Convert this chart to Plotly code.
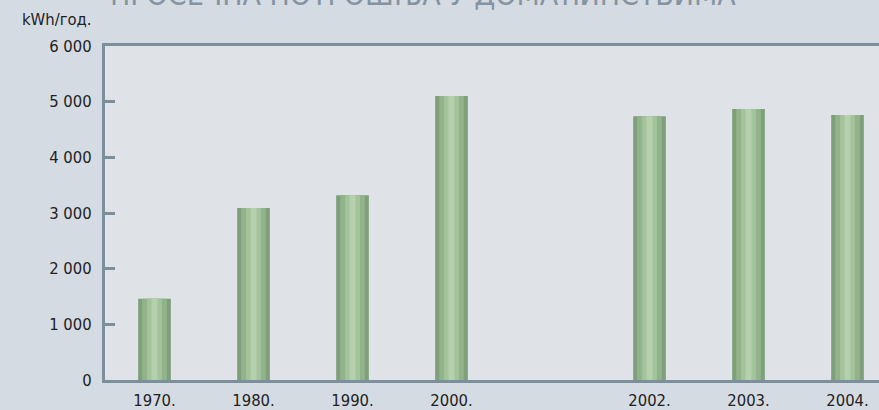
import plotly.graph_objects as go

# Data
categories = ["1970.", "1980.", "1990.", "2000.", " ", "2002.", "2003.", "2004."]
consumption = [1460, 3090, 3320, 5100, None, 4740, 4870, 4760]
y_tick_values = [0, 1000, 2000, 3000, 4000, 5000, 6000]
y_tick_labels = ["0", "1 000", "2 000", "3 000", "4 000", "5 000", "6 000"]
unit_label = "kWh/год."
title_text = "ПРОСЕЧНА ПОТРОШЊА У ДОМАЋИНСТВИМА"

FONT = "DejaVu Sans Condensed, Liberation Sans, sans-serif"
AXIS_COLOR = "#7b8f9d"

fig = go.Figure()
# cylinder-like bars: layered bars of decreasing width
layers = [
    (0.33, "#7f9f7b"),
    (0.25, "#91b28a"),
    (0.15, "#a3c39b"),
    (0.06, "#b6cfae"),
]
for w, c in layers:
    fig.add_trace(go.Bar(
        x=categories, y=consumption, width=w,
        marker=dict(color=c, line=dict(width=0)),
        hoverinfo="skip", showlegend=False,
    ))

fig.update_layout(
    width=879, height=410,
    barmode="overlay",
    margin=dict(l=105, r=0, t=46, b=26),
    paper_bgcolor="#d5dbe2",
    plot_bgcolor="#dfe3e8",
    font=dict(family=FONT, size=16.5, color="#222222"),
    showlegend=False,
    xaxis=dict(
        type="category",
        categoryorder="array", categoryarray=categories,
        range=[-0.5, 7.318],
        showgrid=False, zeroline=False,
        showline=True, linecolor=AXIS_COLOR, linewidth=3, mirror=True,
        ticks="", ticklabelstandoff=3,
        tickfont=dict(family=FONT, size=16.5, color="#222222"),
    ),
    yaxis=dict(
        range=[0, 6000],
        tickvals=y_tick_values, ticktext=y_tick_labels,
        showgrid=False, zeroline=False,
        showline=True, linecolor=AXIS_COLOR, linewidth=3,
        ticks="inside", ticklen=10, tickwidth=3, tickcolor=AXIS_COLOR,
        ticklabelstandoff=7,
        tickfont=dict(family=FONT, size=16.5, color="#222222"),
    ),
    annotations=[
        dict(text=unit_label, xref="paper", yref="paper", x=0, y=1.079,
             xanchor="right", yanchor="middle", xshift=-11, showarrow=False,
             font=dict(family=FONT, size=16.5, color="#222222")),
        dict(text=title_text, xref="paper", yref="paper", x=0.0, y=1.097,
             xanchor="left", yanchor="bottom", xshift=3, showarrow=False,
             font=dict(family=FONT, size=30, color="#8494a3")),
    ],
)

fig.write_html("out.html", config={"displayModeBar": False},
               post_script="document.body.style.margin='0';document.body.style.overflow='hidden';")
